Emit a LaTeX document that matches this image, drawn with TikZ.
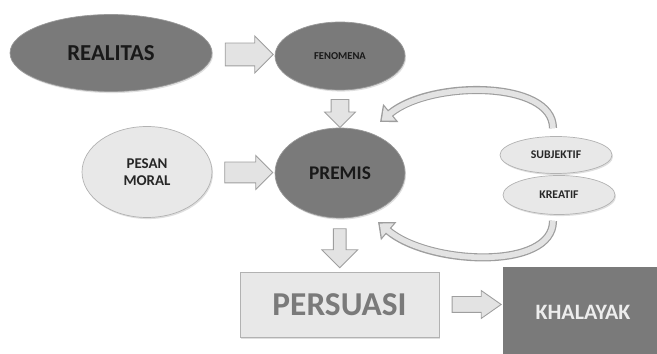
\documentclass[tikz,border=0pt]{standalone}
\usepackage{fontspec}
\setmainfont{Carlito}
\usepackage{tikz}
\usetikzlibrary{arrows.meta,shapes.arrows,shapes.geometric,shadows}
\colorlet{darkfill}{black!52}
\colorlet{lightfill}{black!9}
\colorlet{edgecol}{black!30}
\colorlet{arrowfill}{black!11}
\colorlet{arrowedge}{black!38}
\tikzset{
  every node/.style={inner sep=0pt},
  softshadow/.style={drop shadow={opacity=0.25, shadow xshift=0.6pt, shadow yshift=-0.9pt}},
  darkoval/.style={ellipse, fill=darkfill, draw=black!40, text=black!90, softshadow},
  lightoval/.style={ellipse, fill=lightfill, draw=edgecol, text=black!85, softshadow},
  blockarr/.style={single arrow, fill=arrowfill, draw=arrowedge, line width=0.5pt,
    single arrow tip angle=90},
  curveout/.style={line width=4.6pt, draw=arrowedge, -{Triangle[width=13pt,length=8pt]}},
  curvein/.style={line width=3.2pt, draw=arrowfill, shorten >=1.3pt,
    -{Triangle[width=10pt,length=6pt]}},
}
\begin{document}
\begin{tikzpicture}[x=0.02cm, y=-0.02cm]

  % Frame.
  \useasboundingbox (0,0) rectangle (657,354);

  % Ovals.
  \node[darkoval, minimum width=4.04cm, minimum height=1.54cm,
    font=\bfseries\fontsize{13}{15}\selectfont] (realitas) at (111,53) {REALITAS};
  \node[darkoval, minimum width=2.6cm, minimum height=1.36cm,
    font=\bfseries\fontsize{6}{7}\selectfont] (fenomena) at (340,56) {FENOMENA};
  \node[lightoval, minimum width=2.6cm, minimum height=1.82cm, align=center,
    font=\bfseries\fontsize{8.5}{10}\selectfont] (pesan) at (147,172) {PESAN\\MORAL};
  \node[darkoval, minimum width=2.6cm, minimum height=1.8cm,
    font=\bfseries\fontsize{11}{13}\selectfont] (premis) at (340,173) {PREMIS};
  \node[lightoval, minimum width=2.24cm, minimum height=0.74cm,
    font=\bfseries\fontsize{6.7}{8}\selectfont] (subjektif) at (556,155) {SUBJEKTIF};
  \node[lightoval, minimum width=2.24cm, minimum height=0.78cm,
    font=\bfseries\fontsize{6.7}{8}\selectfont] (kreatif) at (559,195) {KREATIF};

  % Boxes.
  \node[rectangle, fill=lightfill, draw=edgecol, text=black!52, softshadow,
    minimum width=3.98cm, minimum height=1.3cm,
    font=\bfseries\fontsize{19}{22}\selectfont] (persuasi) at (339.5,304.5) {PERSUASI};
  \node[rectangle, fill=darkfill, text=white!93!black,
    minimum width=3.2cm, minimum height=1.8cm,
    font=\bfseries\fontsize{12.5}{15}\selectfont] (khalayak) at (583,312) {KHALAYAK};

  % Block arrows.
  \path (realitas.east) -- node[blockarr, minimum height=0.96cm, inner sep=0.22cm,
    single arrow head extend=0.14cm] (arrA) {} (fenomena.west);
  \path (fenomena.south) -- node[blockarr, shape border rotate=270, minimum height=0.56cm,
    inner sep=0.17cm, single arrow head extend=0.13cm] (arrB) {} (premis.north);
  \path (pesan.east) -- node[blockarr, minimum height=0.96cm, inner sep=0.2cm,
    single arrow head extend=0.13cm] (arrC) {} (premis.west);
  \path (premis.south) -- node[blockarr, shape border rotate=270, minimum height=0.78cm,
    inner sep=0.12cm, single arrow head extend=0.23cm] (arrD) {} (persuasi.north);
  \path (persuasi.east) -- node[blockarr, minimum height=0.98cm, inner sep=0.15cm,
    single arrow head extend=0.12cm, single arrow tip angle=70] (arrE) {}
    (persuasi.east -| khalayak.west);

  % Curved arrows back to the premise.
  \foreach \sty in {curveout, curvein} {
    \draw[\sty] ([shift={(-3,-8)}]subjektif.north)
      .. controls +(0,-48) and +(50,-42) .. ([shift={(40,-51)}]premis.center);
    \draw[\sty] ([shift={(-6,6)}]kreatif.south)
      .. controls +(0,50) and +(50,43) .. ([shift={(38,49)}]premis.center);
  }

\end{tikzpicture}
\end{document}
